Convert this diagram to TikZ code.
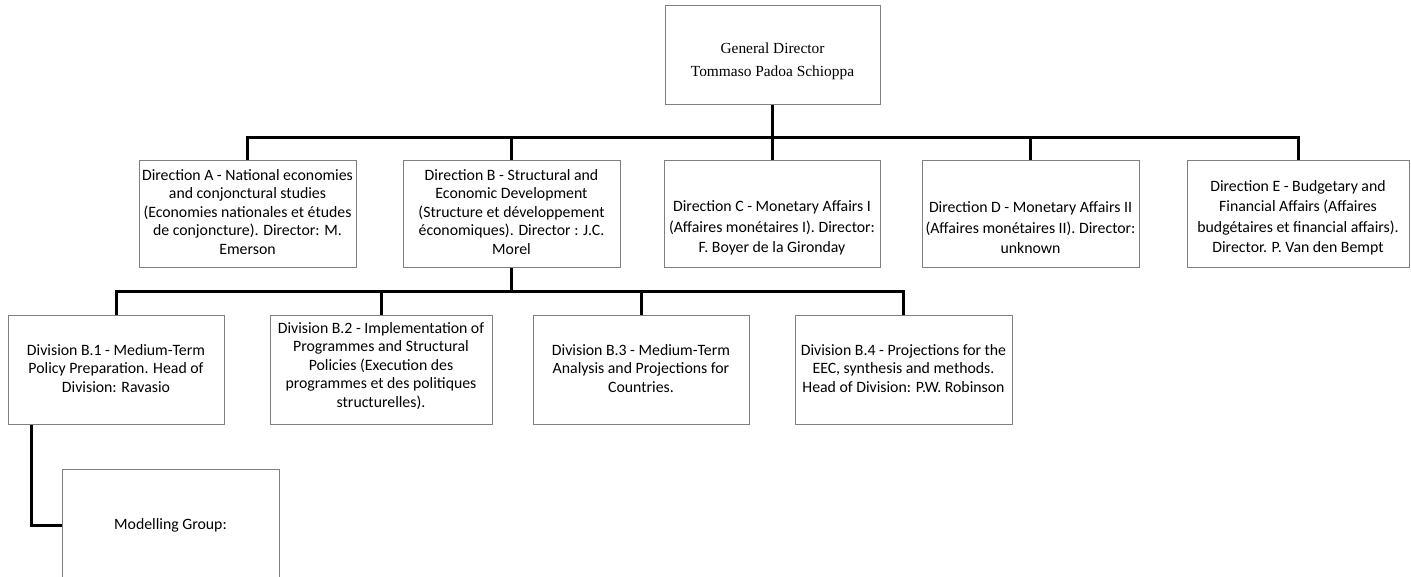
\documentclass[tikz,border=0pt]{standalone}
\usepackage{fontspec}
\setmainfont{Carlito}
\newfontfamily\tnr{Liberation Serif}
\begin{document}
\begin{tikzpicture}[x=1pt,y=-1pt,
  box/.style={draw=boxgray,line width=1pt,fill=white,inner sep=0pt,minimum width=#1},
  box/.default=217pt,
  lbl/.style={align=center,inner sep=0pt,font=\fontsize{15.8}{18.5}\selectfont},
  lblwide/.style={align=center,inner sep=0pt,font=\fontsize{15.8}{20.5}\selectfont},
  conn/.style={draw=black,line width=3pt,line join=miter}]
\definecolor{boxgray}{RGB}{128,128,128}
\clip (0,0) rectangle (1411,577);
\fill[white] (0,0) rectangle (1411,577);
\coordinate (j1) at (772.5,138);
\coordinate (j2) at (511.5,292);
% boxes
\node[box=215pt,minimum height=99pt] (top) at (772.5,55.5) {};
\node[box,minimum height=107pt] (dA) at (247.5,214.5) {};
\node[box,minimum height=107pt] (dB) at (511.5,214.5) {};
\node[box=216pt,minimum height=107pt] (dC) at (772,214.5) {};
\node[box,minimum height=107pt] (dD) at (1030.5,214.5) {};
\node[box=222pt,minimum height=107pt] (dE) at (1298,214.5) {};
\node[box=216pt,minimum height=108pt] (b1) at (116,370) {};
\node[box=222pt,minimum height=108pt] (b2) at (381,370) {};
\node[box=216pt,minimum height=108pt] (b3) at (641,370) {};
\node[box,minimum height=108pt] (b4) at (903.5,370) {};
\node[box,minimum height=112pt] (mg) at (170.5,525) {};
% connector lines
\draw[conn] (top.south) -- (j1);
\foreach \n in {dA,dB,dC,dD,dE} \draw[conn] (j1) -| (\n.north);
\draw[conn] (dB.south) -- (j2);
\foreach \n in {b1,b2,b3,b4} \draw[conn] (j2) -| (\n.north);
\draw[conn] ([xshift=-85pt]b1.south) |- (mg.west);
% texts
\node[align=center,inner sep=0pt,font=\tnr\fontsize{15.4}{23}\selectfont] (topt) at (772.5,61) {General Director\\Tommaso Padoa Schioppa};
\node[lbl] (dAt) at (247.5,212) {Direction A - National economies\\and conjonctural studies\\(Economies nationales et études\\de conjoncture). Director: M.\\Emerson};
\node[lbl] (dBt) at (511.5,212) {Direction B - Structural and\\Economic Development\\(Structure et développement\\économiques). Director : J.C.\\Morel};
\node[lblwide] (dCt) at (772,228) {Direction C - Monetary Affairs I\\(Affaires monétaires I). Director:\\F. Boyer de la Gironday};
\node[lblwide] (dDt) at (1030.5,228) {Direction D - Monetary Affairs II\\(Affaires monétaires II). Director:\\unknown};
\node[lblwide] (dEt) at (1298,218) {Direction E - Budgetary and\\Financial Affairs (Affaires\\budgétaires et financial affairs).\\Director. P. Van den Bempt};
\node[lbl] (b1t) at (116,368.5) {Division B.1 - Medium-Term\\Policy Preparation. Head of\\Division: Ravasio};
\node[lbl] (b2t) at (381,366) {Division B.2 - Implementation of\\Programmes and Structural\\Policies (Execution des\\programmes et des politiques\\structurelles).};
\node[lbl] (b3t) at (641,368.5) {Division B.3 - Medium-Term\\Analysis and Projections for\\Countries.};
\node[lbl] (b4t) at (903.5,368.5) {Division B.4 - Projections for the\\EEC, synthesis and methods.\\Head of Division: P.W. Robinson};
\node[lbl] (mgt) at (170.5,525) {Modelling Group:};
\end{tikzpicture}
\end{document}
